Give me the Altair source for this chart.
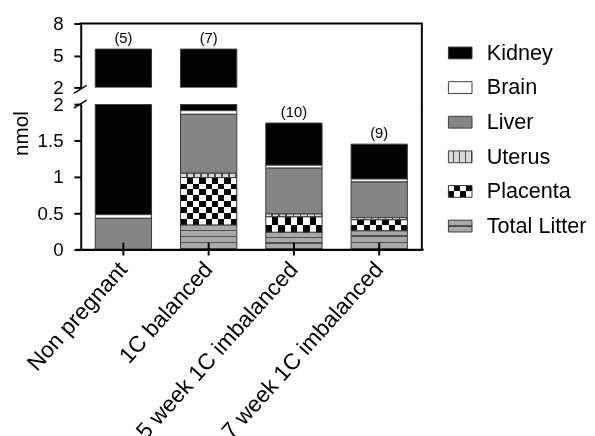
import altair as alt
import pandas as pd

# ---------------- data ----------------
groups = ["Non pregnant", "1C balanced", "5 week 1C imbalanced", "7 week 1C imbalanced"]
counts = [5, 7, 10, 9]
series_stack = ["Total Litter", "Placenta", "Uterus", "Liver", "Brain", "Kidney"]
legend_order = ["Kidney", "Brain", "Liver", "Uterus", "Placenta", "Total Litter"]

total_litter = [0.0, 0.34, 0.24, 0.26]
placenta = [0.0, 0.65, 0.21, 0.15]
uterus = [0.0, 0.06, 0.04, 0.03]
liver = [0.43, 0.81, 0.63, 0.49]
brain = [0.05, 0.05, 0.04, 0.04]
kidney = [5.12, 3.69, 0.58, 0.48]

lower_ticks = [0, 0.5, 1, 1.5, 2]
upper_ticks = [2, 5, 8]

values = {
    "Total Litter": total_litter,
    "Placenta": placenta,
    "Uterus": uterus,
    "Liver": liver,
    "Brain": brain,
    "Kidney": kidney,
}

rows = []
for gi, g in enumerate(groups):
    for si, s in enumerate(series_stack):
        rows.append({"group": g, "series": s, "order": si,
                     "value": values[s][gi], "n": counts[gi]})
df = pd.DataFrame(rows)
legend_df = pd.DataFrame({"series": legend_order})

# ---------------- style ----------------
W = 347
H_UP = 65
H_LOW = 148
GAP = 17
PX = H_LOW / 2.0  # px per unit in lower panel
FONT = "Liberation Sans"
EDGE = "#3a3a3a"
plain_colors = {"Kidney": "#000000", "Brain": "#ffffff", "Liver": "#858585"}


def stripes(n, base, line, frac, horizontal=True):
    stops = []
    for k in range(n):
        a = k / n
        b = (k + 1 - frac) / n
        c = (k + 1) / n
        stops += [{"offset": a, "color": base}, {"offset": b, "color": base},
                  {"offset": b, "color": line}, {"offset": c, "color": line}]
    if horizontal:
        return {"gradient": "linear", "x1": 0, "y1": 0, "x2": 0, "y2": 1, "stops": stops}
    return {"gradient": "linear", "x1": 0, "y1": 0, "x2": 1, "y2": 0, "stops": stops}


def alternating(n, c1, c2, horizontal=True):
    stops = []
    for k in range(n):
        col = c1 if k % 2 == 0 else c2
        stops += [{"offset": k / n, "color": col}, {"offset": (k + 1) / n, "color": col}]
    if horizontal:
        return {"gradient": "linear", "x1": 0, "y1": 0, "x2": 0, "y2": 1, "stops": stops}
    return {"gradient": "linear", "x1": 0, "y1": 0, "x2": 1, "y2": 0, "stops": stops}


LITTER_BASE, LITTER_LINE = "#a9a9a9", "#505050"
UTERUS_BASE, UTERUS_LINE = "#d9d9d9", "#505050"

base = (
    alt.Chart(df)
    .transform_stack(stack="value", groupby=["group"], as_=["y0", "y1"],
                     sort=[alt.SortField("order", order="ascending")])
    .transform_filter("datum.value > 0")
)


def one(**kw):
    return alt.Chart(pd.DataFrame({"a": [0]})).mark_rule(color="black", **kw)


def panel(domain, height, ticks, lower):
    yscale = alt.Scale(domain=domain, nice=False, zero=False)
    yaxis = alt.Axis(values=ticks, format="~g", title=None, tickSize=7,
                     labelPadding=11, domainWidth=2, tickWidth=2)
    if lower:
        xaxis = alt.Axis(labelAngle=-48, ticks=False, title=None, labelPadding=16,
                         labelFontSize=23, domainWidth=2, labelLimit=400)
    else:
        xaxis = None
    xs = alt.Scale(domain=groups, paddingInner=0.34, paddingOuter=0.17)

    def X():
        return alt.X("group:N", sort=groups, scale=xs, axis=xaxis)

    def Y(field="y0"):
        return alt.Y(field + ":Q", scale=yscale, axis=yaxis)

    layers = []
    # plain segments
    for s, col in plain_colors.items():
        layers.append(
            base.transform_filter(alt.datum.series == s)
            .mark_bar(fill=col, stroke=EDGE, strokeWidth=1, clip=True)
            .encode(x=X(), y=Y(), y2="y1:Q")
        )
    # patterned segments (all lie below 2, so only in the lower panel),
    # one layer per bar so the pattern density fits the bar
    if lower:
        for gi, g in enumerate(groups):
            v = total_litter[gi]
            if v > 0:
                n = max(2, round(v * PX / 5.8))
                layers.append(
                    base.transform_filter((alt.datum.series == "Total Litter") & (alt.datum.group == g))
                    .mark_bar(fill=stripes(n, LITTER_BASE, LITTER_LINE, 0.25, True),
                              stroke=EDGE, strokeWidth=1)
                    .encode(x=X(), y=Y(), y2="y1:Q")
                )
            v = uterus[gi]
            if v > 0:
                layers.append(
                    base.transform_filter((alt.datum.series == "Uterus") & (alt.datum.group == g))
                    .mark_bar(fill=stripes(8, UTERUS_BASE, UTERUS_LINE, 0.2, False),
                              stroke=EDGE, strokeWidth=1)
                    .encode(x=X(), y=Y(), y2="y1:Q")
                )
            v = placenta[gi]
            if v > 0:
                rows_n = max(2, round(v * PX / 6.4))
                filt = (alt.datum.series == "Placenta") & (alt.datum.group == g)
                layers.append(
                    base.transform_filter(filt)
                    .mark_bar(fill=alternating(9, "#000000", "#ffffff", False))
                    .encode(x=X(), y=Y(), y2="y1:Q")
                )
                layers.append(
                    base.transform_filter(filt)
                    .mark_bar(fill=alternating(rows_n, "#ffffff", "#000000", True),
                              blend="difference")
                    .encode(x=X(), y=Y(), y2="y1:Q")
                )
                layers.append(
                    base.transform_filter(filt)
                    .mark_bar(fillOpacity=0, fill="#000000", stroke=EDGE, strokeWidth=1)
                    .encode(x=X(), y=Y(), y2="y1:Q")
                )
    # count labels
    cond = "datum.y1 <= 2" if lower else "datum.y1 > 2"
    layers.append(
        base.transform_filter(alt.datum.series == "Kidney")
        .transform_filter(cond)
        .transform_calculate(label="'(' + datum.n + ')'")
        .mark_text(font=FONT, fontSize=15, baseline="middle", dy=-11, color="black")
        .encode(x=X(), y=Y("y1"), text="label:N")
    )
    # frame / decorations
    if lower:
        layers.append(
            alt.Chart(pd.DataFrame({"group": groups})).mark_rule(color="black", strokeWidth=2)
            .encode(x=X(), y=alt.value(height - 7), y2=alt.value(height + 6))
        )
        layers.append(one(strokeWidth=2).encode(x=alt.value(W), y=alt.value(0), y2=alt.value(height)))
        layers.append(one(strokeWidth=2).encode(x=alt.value(-5), x2=alt.value(W + 2), y=alt.value(height)))
        layers.append(one(strokeWidth=1.5).encode(x=alt.value(-7), x2=alt.value(6),
                                                  y=alt.value(4), y2=alt.value(-4)))
        layers.append(
            alt.Chart(pd.DataFrame({"t": ["nmol"]}))
            .mark_text(font=FONT, fontSize=21, angle=270, baseline="middle", align="center",
                       color="black")
            .encode(x=alt.value(-60), y=alt.value(30), text="t:N")
        )
    else:
        layers.append(one(strokeWidth=2).encode(x=alt.value(-1), x2=alt.value(W + 1), y=alt.value(0)))
        layers.append(one(strokeWidth=2).encode(x=alt.value(W), y=alt.value(0),
                                                y2=alt.value(height + GAP)))
        layers.append(one(strokeWidth=1.5).encode(x=alt.value(-7), x2=alt.value(6),
                                                  y=alt.value(height + 6), y2=alt.value(height - 2)))
    return alt.layer(*layers).properties(width=W, height=height)


upper = panel([2, 8], H_UP, upper_ticks, False)
lower = panel([0, 2], H_LOW, lower_ticks, True)
plot = alt.vconcat(upper, lower, spacing=GAP, bounds="flush")

# ---------------- legend ----------------
LEG_W = 140
lx = alt.Scale(domain=[0, LEG_W], range=[0, LEG_W])
ly = alt.Y("series:N", sort=legend_order,
           scale=alt.Scale(domain=legend_order, paddingInner=0, paddingOuter=0.35), axis=None)
lbase = alt.Chart(legend_df)


def swatch(s, **kw):
    return (lbase.transform_filter(alt.datum.series == s)
            .mark_bar(size=12, **kw)
            .encode(y=ly, x=alt.XDatum(0, scale=lx, axis=None), x2=alt.X2Datum(24)))


litter_legend_fill = {
    "gradient": "linear", "x1": 0, "y1": 0, "x2": 0, "y2": 1,
    "stops": [{"offset": 0, "color": LITTER_BASE}, {"offset": 0.42, "color": LITTER_BASE},
              {"offset": 0.42, "color": LITTER_LINE}, {"offset": 0.58, "color": LITTER_LINE},
              {"offset": 0.58, "color": LITTER_BASE}, {"offset": 1, "color": LITTER_BASE}],
}

leg_layers = [
    swatch("Kidney", fill="#000000", stroke=EDGE, strokeWidth=1),
    swatch("Brain", fill="#ffffff", stroke=EDGE, strokeWidth=1),
    swatch("Liver", fill=plain_colors["Liver"], stroke=EDGE, strokeWidth=1),
    swatch("Uterus", fill=stripes(4, UTERUS_BASE, UTERUS_LINE, 0.2, False), stroke=EDGE, strokeWidth=1),
    swatch("Placenta", fill=alternating(4, "#000000", "#ffffff", False)),
    swatch("Placenta", fill=alternating(2, "#ffffff", "#000000", True), blend="difference"),
    swatch("Placenta", fill="#000000", fillOpacity=0, stroke=EDGE, strokeWidth=1),
    swatch("Total Litter", fill=litter_legend_fill, stroke=EDGE, strokeWidth=1),
    lbase.mark_text(font=FONT, fontSize=22, align="left", baseline="middle", color="black")
    .encode(y=ly, x=alt.XDatum(39, scale=lx, axis=None), text="series:N"),
]
legend = alt.layer(*leg_layers).properties(width=LEG_W, height=236)

chart = (
    alt.hconcat(plot, legend, spacing=23)
    .properties(padding={"left": 3, "top": 3, "right": 0, "bottom": 0})
    .configure_view(stroke=None)
    .configure_axis(labelFont=FONT, labelFontSize=19, labelColor="black",
                    domainColor="black", tickColor="black", grid=False)
)

chart.save("out.html", embed_options={"renderer": "svg", "actions": False})
